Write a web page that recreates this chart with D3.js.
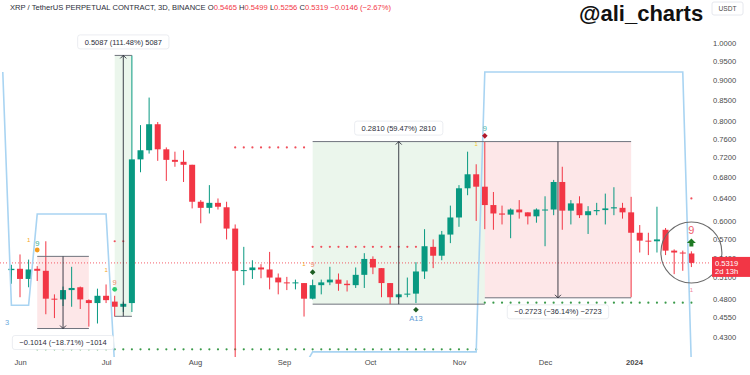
<!DOCTYPE html>
<html>
<head>
<meta charset="utf-8">
<script src="https://cdn.jsdelivr.net/npm/d3@7"></script>
<style>
  body { margin: 0; background: #fff; }
  svg { display: block; font-family: "Liberation Sans", Arial, sans-serif; }
</style>
</head>
<body>
<svg id="chart" width="750" height="375"></svg>
<script>
// XRP / USDT perpetual, 3D candles
const firstCandle = Date.UTC(2023, 4, 29);
const stepDays = 3;

const opens = [0.521,0.523,0.508,0.523,0.520,0.480,0.479,0.492,0.496,0.478,
  0.474,0.484,0.476,0.469,0.474,0.716,0.735,0.792,0.737,0.715,
  0.711,0.705,0.634,0.623,0.632,0.624,0.587,0.520,0.521,0.525,
  0.522,0.510,0.503,0.502,0.502,0.480,0.499,0.503,0.507,0.501,
  0.499,0.514,0.538,0.524,0.502,0.482,0.486,0.487,0.519,0.557,
  0.543,0.577,0.606,0.659,0.686,0.662,0.628,0.613,0.611,0.620,
  0.615,0.608,0.619,0.620,0.671,0.618,0.631,0.610,0.617,0.619,
  0.622,0.623,0.615,0.580,0.567,0.566,0.585,0.551,0.548,0.5465];
const highs = [0.529,0.545,0.537,0.527,0.566,0.486,0.497,0.526,0.497,0.479,
  0.494,0.500,0.484,0.476,0.965,0.790,0.855,0.797,0.741,0.732,
  0.735,0.705,0.637,0.665,0.640,0.634,0.594,0.557,0.536,0.530,
  0.549,0.516,0.511,0.507,0.502,0.507,0.507,0.526,0.516,0.506,
  0.525,0.547,0.542,0.524,0.502,0.487,0.510,0.533,0.586,0.569,
  0.583,0.627,0.665,0.732,0.706,0.7535,0.652,0.627,0.622,0.637,
  0.615,0.622,0.644,0.675,0.701,0.637,0.644,0.626,0.632,0.649,
  0.661,0.632,0.643,0.593,0.580,0.625,0.588,0.553,0.551,0.5499];
const lows = [0.501,0.482,0.496,0.505,0.459,0.454,0.470,0.469,0.466,0.443,
  0.447,0.474,0.456,0.462,0.462,0.690,0.728,0.713,0.673,0.701,
  0.671,0.622,0.596,0.613,0.620,0.569,0.405,0.499,0.508,0.509,
  0.493,0.486,0.492,0.493,0.456,0.479,0.486,0.499,0.491,0.490,
  0.495,0.495,0.515,0.482,0.4725,0.480,0.482,0.474,0.508,0.524,
  0.536,0.563,0.590,0.646,0.600,0.586,0.585,0.594,0.571,0.604,
  0.594,0.597,0.558,0.610,0.585,0.594,0.605,0.578,0.610,0.594,
  0.610,0.604,0.482,0.548,0.544,0.548,0.544,0.515,0.520,0.5256];
const closes = [0.523,0.508,0.522,0.520,0.480,0.479,0.492,0.495,0.479,0.474,
  0.484,0.478,0.469,0.473,0.716,0.735,0.792,0.737,0.715,0.711,
  0.705,0.634,0.623,0.632,0.625,0.587,0.520,0.521,0.525,0.522,
  0.510,0.503,0.502,0.503,0.480,0.499,0.503,0.507,0.501,0.499,
  0.514,0.538,0.525,0.502,0.482,0.486,0.487,0.519,0.558,0.543,
  0.577,0.606,0.659,0.686,0.662,0.628,0.613,0.611,0.620,0.615,
  0.608,0.620,0.620,0.671,0.618,0.631,0.610,0.617,0.619,0.622,
  0.624,0.615,0.580,0.567,0.566,0.569,0.551,0.548,0.5465,0.5319];

// light blue step indicator, one value per candle, starting one candle before the first shown
const bandStart = -1;
const bandLine = [0.92,
  0.471,0.471,0.471,
  0.612,0.612,0.612,0.612,0.612,0.612,0.612,0.612,0.612,
  0.395,0.395,0.395,0.395,0.395,0.395,0.395,0.395,0.395,0.395,0.395,0.395,
  0.395,0.395,0.395,0.395,0.395,0.395,0.395,0.395,0.395,0.395,0.395,
  0.412,0.412,0.412,0.412,0.412,0.412,0.412,0.412,0.412,0.412,
  0.412,0.412,0.412,0.412,0.412,0.412,0.412,0.412,0.412,0.412,
  0.92,0.92,0.92,0.92,0.92,0.92,0.92,0.92,0.92,0.92,0.92,0.92,
  0.92,0.92,0.92,0.92,0.92,0.92,0.92,0.92,0.92,0.92,0.92,0.92,
  0.395];

// TDST dotted levels (candle index ranges)
const resistLevels = [
  {from: 12, to: 13, price: 0.566},
  {from: 26, to: 34, price: 0.741},
  {from: 35, to: 47, price: 0.557},
  {from: 79, to: 79, price: 0.64}
];
const supportLevels = [
  {from: 3, to: 54, price: 0.415},
  {from: 55, to: 79, price: 0.4745}
];

// price range measurements
const ranges = [
  {from: 3, to: 9, p0: 0.542, p1: 0.4406, label: "\u22120.1014 (\u221218.71%) \u22121014"},
  {from: 12, to: 14, p0: 0.4563, p1: 0.965, label: "0.5087 (111.48%) 5087"},
  {from: 35, to: 55, p0: 0.4725, p1: 0.7535, label: "0.2810 (59.47%) 2810"},
  {from: 55, to: 72, p0: 0.7535, p1: 0.4812, label: "\u22120.2723 (\u221236.14%) \u22122723"}
];

// sequential counts / signals
const marks = [
  {i: -0.5, price: 0.449, kind: "text", t: "3", c: "#6aa9dc"},
  {i: 2, price: 0.569, kind: "text", t: "1", c: "#f5a623"},
  {i: 3, price: 0.563, kind: "text", t: "9", c: "#3bb08f"},
  {i: 3, price: 0.552, kind: "dot", c: "#f59b1c"},
  {i: 11, price: 0.522, kind: "text", t: "1", c: "#f5a623"},
  {i: 12, price: 0.504, kind: "text", t: "9", c: "#f08a6c"},
  {i: 12, price: 0.493, kind: "dot", c: "#2ecc71"},
  {i: 34, price: 0.532, kind: "text", t: "1", c: "#f5a623"},
  {i: 35, price: 0.530, kind: "text", t: "9", c: "#f08a6c"},
  {i: 35, price: 0.518, kind: "diamond", c: "#1e5e23"},
  {i: 47, price: 0.465, kind: "diamond", c: "#1e5e23"},
  {i: 47, price: 0.454, kind: "text", t: "A13", c: "#5b9bd5"},
  {i: 54, price: 0.750, kind: "text", t: "1", c: "#f5c523"},
  {i: 55, price: 0.784, kind: "text", t: "9", c: "#4db6ac"},
  {i: 55, price: 0.766, kind: "diamond", c: "#b0182a"},
  {i: 79, price: 0.583, kind: "text9", t: "9", c: "#f0606c"},
  {i: 79, price: 0.563, kind: "arrow", c: "#1f7a24"},
  {i: 79, price: 0.494, kind: "text", t: "1", c: "#f08a9c"}
];

const lastPrice = 0.5319;
const circleAt = {i: 79, price: 0.548};

const priceTicks = [1.0, 0.95, 0.90, 0.85, 0.80, 0.76, 0.72, 0.68, 0.64, 0.60, 0.57, 0.54, 0.51, 0.48, 0.455, 0.43];
const monthTicks = [Date.UTC(2023,5,1), Date.UTC(2023,6,1), Date.UTC(2023,7,1), Date.UTC(2023,8,1),
  Date.UTC(2023,9,1), Date.UTC(2023,10,1), Date.UTC(2023,11,1), Date.UTC(2024,0,1)];
const monthLabels = ["Jun", "Jul", "Aug", "Sep", "Oct", "Nov", "Dec", "2024"];

const UP = "#089981", DOWN = "#f23645";
const day = 864e5;
const dateOf = i => new Date(firstCandle + i * stepDays * day);

const svg = d3.select("#chart");
const x = d3.scaleUtc()
  .domain([new Date(monthTicks[0]), new Date(monthTicks[7])])
  .range([20, 634]);
const y = d3.scaleLog().domain([1.0, 0.43]).range([43, 337]);
const cx = i => x(dateOf(i));

svg.append("defs").append("clipPath").attr("id", "plot")
  .append("rect").attr("x", 0).attr("y", 0).attr("width", 711).attr("height", 357);

const plot = svg.append("g").attr("clip-path", "url(#plot)");

const candles = opens.map((o, i) => ({i, o, h: highs[i], l: lows[i], c: closes[i]}));

// measurement box fills
plot.selectAll("rect.range").data(ranges).enter().append("rect")
  .attr("x", d => cx(d.from))
  .attr("width", d => cx(d.to) - cx(d.from))
  .attr("y", d => y(Math.max(d.p0, d.p1)))
  .attr("height", d => y(Math.min(d.p0, d.p1)) - y(Math.max(d.p0, d.p1)))
  .attr("fill", d => d.p1 > d.p0 ? "rgba(76,175,80,0.11)" : "rgba(242,54,69,0.12)");

// dotted TDST levels
function dots(levels, color) {
  levels.forEach(lv => {
    plot.selectAll(null).data(d3.range(lv.from, lv.to + 1)).enter().append("circle")
      .attr("cx", i => cx(i)).attr("cy", y(lv.price)).attr("r", 1.1).attr("fill", color);
  });
}
dots(resistLevels, "#f0505c");
dots(supportLevels, "#3a9a4a");

// last price line
plot.append("line")
  .attr("x1", 0).attr("x2", 711).attr("y1", y(lastPrice)).attr("y2", y(lastPrice))
  .attr("stroke", "#f23645").attr("stroke-width", 0.8).attr("stroke-dasharray", "1,2");

// candles
const cg = plot.selectAll("g.candle").data(candles).enter().append("g");
cg.append("line")
  .attr("x1", d => cx(d.i)).attr("x2", d => cx(d.i))
  .attr("y1", d => y(d.h)).attr("y2", d => y(d.l))
  .attr("stroke", d => d.c >= d.o ? UP : DOWN).attr("stroke-width", 1);
cg.append("rect")
  .attr("x", d => cx(d.i) - 3).attr("width", 6)
  .attr("y", d => y(Math.max(d.o, d.c)))
  .attr("height", d => Math.max(1, Math.abs(y(d.o) - y(d.c))))
  .attr("fill", d => d.c >= d.o ? UP : DOWN);

// blue indicator line
plot.append("path")
  .datum(bandLine)
  .attr("d", d3.line().x((v, i) => cx(i + bandStart)).y(v => y(v)))
  .attr("fill", "none").attr("stroke", "#a9d4f2").attr("stroke-width", 1.6);

// measurement borders, arrows, labels
ranges.forEach(d => {
  const x0 = cx(d.from), x1 = cx(d.to), xm = (x0 + x1) / 2;
  const yt = y(Math.max(d.p0, d.p1)), yb = y(Math.min(d.p0, d.p1));
  const up = d.p1 > d.p0;
  [yt, yb].forEach(yy => plot.append("line")
    .attr("x1", x0).attr("x2", x1).attr("y1", yy).attr("y2", yy)
    .attr("stroke", "#6f737d").attr("stroke-width", 1));
  plot.append("line").attr("x1", xm).attr("x2", xm).attr("y1", yt).attr("y2", yb)
    .attr("stroke", "#2a2e39").attr("stroke-width", 0.9);
  const ya = up ? yt : yb, s = up ? 1 : -1;
  plot.append("path")
    .attr("d", `M${xm - 3},${ya + 3 * s}L${xm},${ya}L${xm + 3},${ya + 3 * s}`)
    .attr("fill", "none").attr("stroke", "#2a2e39").attr("stroke-width", 0.9);
  const ly = up ? yt - 13.5 : yb + 14;
  const lg = svg.append("g");
  const txt = lg.append("text").attr("x", xm).attr("y", ly + 2.6)
    .attr("text-anchor", "middle").attr("font-size", 7.5).attr("fill", "#2a2e39").text(d.label);
  const w = txt.node().getComputedTextLength() + 14;
  lg.insert("rect", "text").attr("x", xm - w / 2).attr("y", ly - 7).attr("width", w).attr("height", 14)
    .attr("rx", 2.5).attr("fill", "#fff").attr("stroke", "#e6e8ee").attr("stroke-width", 0.8);
});

// signal marks
marks.forEach(m => {
  const px = cx(m.i), py = y(m.price);
  if (m.kind === "text" || m.kind === "text9") {
    svg.append("text").attr("x", px).attr("y", py + 3)
      .attr("text-anchor", "middle")
      .attr("font-size", m.kind === "text9" ? 11 : (m.t === "1" ? 6 : 7.5))
      .attr("fill", m.c).text(m.t);
  } else if (m.kind === "dot") {
    svg.append("circle").attr("cx", px).attr("cy", py).attr("r", 2.4).attr("fill", m.c);
  } else if (m.kind === "diamond") {
    svg.append("path").attr("d", `M${px},${py - 2.8}L${px + 2.8},${py}L${px},${py + 2.8}L${px - 2.8},${py}Z`)
      .attr("fill", m.c);
  } else if (m.kind === "arrow") {
    svg.append("path")
      .attr("d", `M${px},${py - 4.5}L${px + 4.5},${py}L${px + 2},${py}L${px + 2},${py + 3.5}L${px - 2},${py + 3.5}L${px - 2},${py}L${px - 4.5},${py}Z`)
      .attr("fill", m.c);
  }
});

// highlight circle
svg.append("circle")
  .attr("cx", cx(circleAt.i)).attr("cy", y(circleAt.price)).attr("r", 30.5)
  .attr("fill", "none").attr("stroke", "#6b6b6b").attr("stroke-width", 1.1);

// right price axis
const yAxis = svg.append("g").attr("transform", "translate(713,0)")
  .call(d3.axisRight(y).tickValues(priceTicks).tickFormat(d3.format(".4f")).tickSize(0).tickPadding(0));
yAxis.select(".domain").remove();
yAxis.selectAll("text").attr("font-size", 7.6).attr("fill", "#4a4a4a")
  .attr("font-family", "'Liberation Sans', Arial, sans-serif");

// time axis
const xAxis = svg.append("g").attr("transform", "translate(0,360)")
  .call(d3.axisBottom(x).tickValues(monthTicks.map(t => new Date(t)))
    .tickFormat((t, k) => monthLabels[k]).tickSize(0).tickPadding(0));
xAxis.select(".domain").remove();
xAxis.selectAll("text").attr("font-size", 7.6).attr("fill", "#4a4a4a")
  .attr("font-family", "'Liberation Sans', Arial, sans-serif")
  .attr("font-weight", (t, k) => monthLabels[k] === "2024" ? "bold" : "normal");

// last price tag
const tagY = y(lastPrice);
svg.append("rect").attr("x", 712).attr("y", tagY - 6).attr("width", 38).attr("height", 20).attr("fill", "#f23645");
svg.append("text").attr("x", 715).attr("y", tagY + 2.6).attr("font-size", 7.6).attr("fill", "#fff").text("0.5319");
svg.append("text").attr("x", 715).attr("y", tagY + 11).attr("font-size", 7.6).attr("fill", "#fff").text("2d 13h");

// currency box
svg.append("rect").attr("x", 712).attr("y", 2).attr("width", 31).attr("height", 13).attr("rx", 2)
  .attr("fill", "#fff").attr("stroke", "#e6e8ee");
svg.append("text").attr("x", 727.5).attr("y", 11).attr("text-anchor", "middle")
  .attr("font-size", 6.6).attr("fill", "#4a4a4a").text("USDT");

// header
const head = svg.append("text").attr("x", 10).attr("y", 10.3).attr("font-size", 7.6).attr("fill", "#2a2e39");
head.append("tspan").text("XRP / TetherUS PERPETUAL CONTRACT, 3D, BINANCE  ");
[["O", "0.5465"], ["H", "0.5499"], ["L", "0.5256"], ["C", "0.5319"]].forEach(([k, v]) => {
  head.append("tspan").text(k);
  head.append("tspan").attr("fill", "#f23645").text(v + " ");
});
head.append("tspan").attr("fill", "#f23645").text("\u22120.0146 (\u22122.67%)");

// watermark
svg.append("text").attr("x", 579).attr("y", 20.7).attr("font-size", 22).attr("font-weight", "bold")
  .attr("fill", "#111").text("@ali_charts");
</script>
</body>
</html>
